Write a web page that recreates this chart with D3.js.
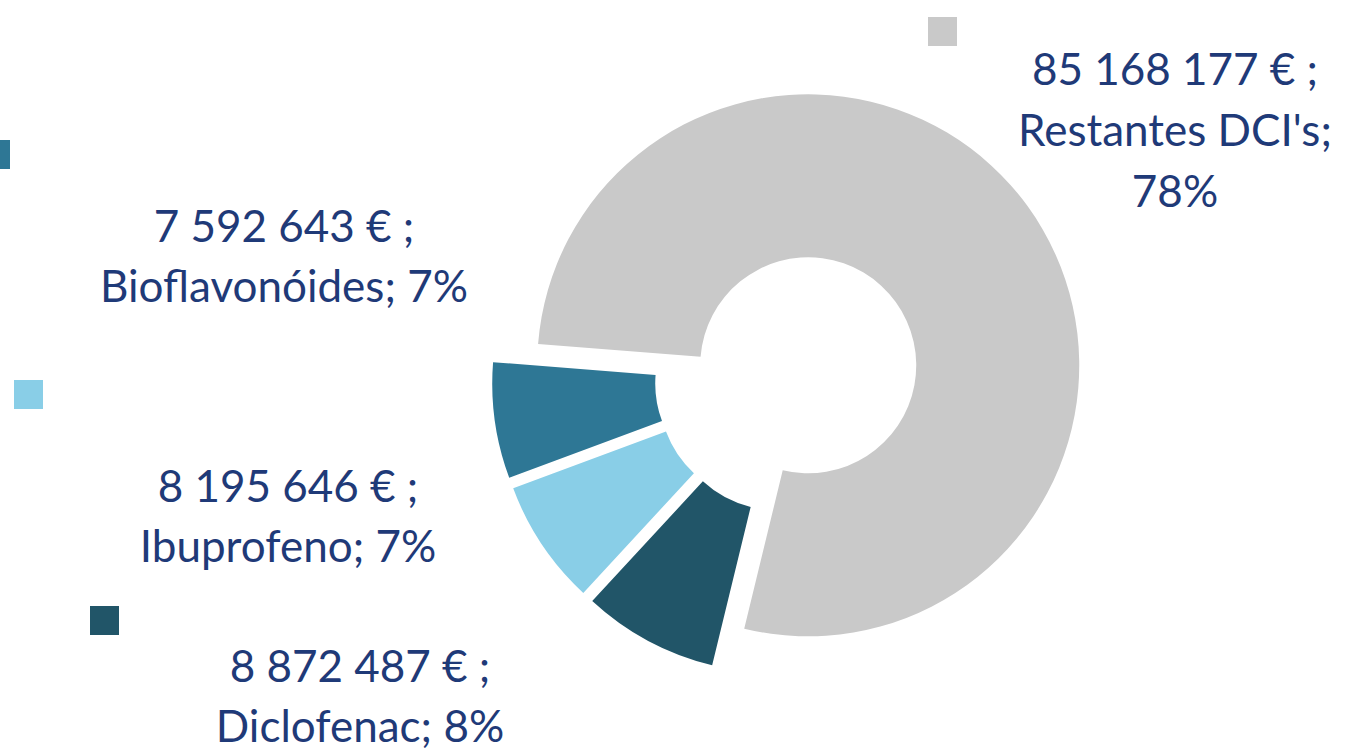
<!DOCTYPE html>
<html>
<head>
<meta charset="utf-8">
<script src="https://cdn.jsdelivr.net/npm/d3@7"></script>
<style>
  body { margin: 0; background: #fff; }
  #chart { width: 1345px; height: 750px; }
  .lbl { font-family: Lato, "Open Sans", sans-serif; font-size: 44px; fill: #1f3a78; }
</style>
</head>
<body>
<div id="chart"></div>
<script>
// order as in the source sheet (clockwise from the first slice)
const categories = ["Restantes DCI's", "Diclofenac", "Ibuprofeno", "Bioflavonóides"];
const values = [85168177, 8872487, 8195646, 7592643];
const percentLabels = ["78%", "8%", "7%", "7%"];
const colors = ["#c9c9c9", "#215568", "#89cee7", "#2e7795"];

// label placement (manually moved labels in the original)
const labelLayout = [
  { x: 1175, y: 85, lines: 3, key: [928, 17] },
  { x: 360, y: 682, lines: 2, key: [90, 606] },
  { x: 288, y: 502, lines: 2, key: [14, 380] },
  { x: 284, y: 242, lines: 2, key: [-19, 140] },
];

const width = 1345, height = 750;
const cx = 788, cy = 380;
const outerR = 271, innerR = 108, explode = 25;
const startAngle = -85.5 * Math.PI / 180;

const fmt = v => d3.format(",")(v).replace(/,/g, " ");

const svg = d3.select("#chart").append("svg")
  .attr("width", width).attr("height", height);

const pie = d3.pie().sort(null).value(d => d)
  .startAngle(startAngle).endAngle(startAngle + 2 * Math.PI);
const arc = d3.arc().innerRadius(innerR).outerRadius(outerR);

const arcs = pie(values);

const g = svg.append("g").attr("transform", `translate(${cx},${cy})`);

g.selectAll("path.slice")
  .data(arcs)
  .join("path")
  .attr("class", "slice")
  .attr("d", arc)
  .attr("fill", (d, i) => colors[i])
  .attr("transform", d => {
    const mid = (d.startAngle + d.endAngle) / 2;
    return `translate(${Math.sin(mid) * explode},${-Math.cos(mid) * explode})`;
  });

// labels
const keySize = 29;
const lineH = 60;
arcs.forEach((d, i) => {
  const L = labelLayout[i];
  svg.append("rect")
    .attr("x", L.key[0]).attr("y", L.key[1])
    .attr("width", keySize).attr("height", keySize)
    .attr("fill", colors[i]);

  let lines;
  if (L.lines === 3) {
    lines = [fmt(values[i]) + " € ;", categories[i] + ";", percentLabels[i]];
  } else {
    lines = [fmt(values[i]) + " € ;", categories[i] + "; " + percentLabels[i]];
  }
  const t = svg.append("text").attr("class", "lbl").attr("text-anchor", "middle");
  lines.forEach((s, k) => {
    t.append("tspan").attr("x", L.x).attr("y", L.y + k * (L.lines === 3 ? 61 : lineH)).text(s);
  });
});
</script>
</body>
</html>
